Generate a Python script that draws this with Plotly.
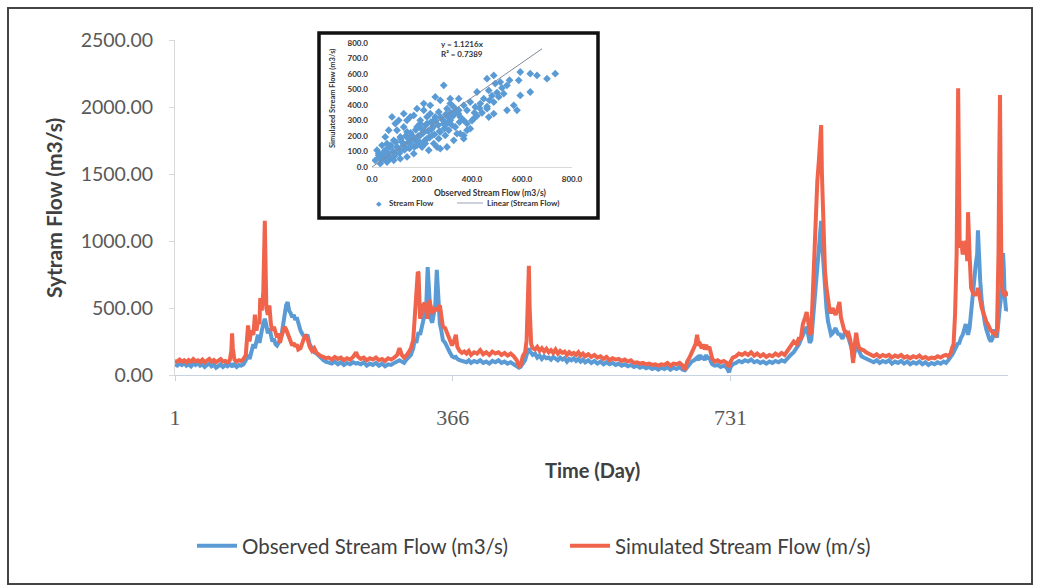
import plotly.graph_objects as go

# ---------------- data ----------------
day = [1,4,7,10,13,16,19,22,25,28,31,34,37,40,43,46,49,52,55,58,61,64,67,70,73,75,76,77,79,82,85,88,91,94,97,99,
       101,104,106,108,110,112,113,115,117,119,120,121,123,125,127,129,131,133,135,137,139,141,143,145,147,149,151,153,155,157,159,161,163,166,169,172,175,178,181,184,187,190,193,196,199,
       203,207,211,215,219,223,227,231,235,239,241,245,249,253,257,261,265,269,273,277,281,285,289,293,296,299,
       302,305,308,311,314,316,318,320,321,323,325,327,329,331,333,335,337,339,341,343,345,347,349,351,353,356,359,362,365,368,370,372,375,378,381,384,387,390,394,398,
       402,406,410,414,418,422,426,430,434,438,442,446,450,453,455,458,461,463,465,466,467,469,471,474,477,480,483,486,489,492,495,498,
       501,504,507,510,513,516,519,522,525,528,531,534,537,540,544,548,552,556,560,564,568,572,576,580,584,588,592,596,
       600,604,608,612,616,620,624,628,632,636,640,644,648,652,656,660,664,668,671,674,677,680,683,685,687,689,691,693,695,697,699,
       701,703,705,707,710,714,718,722,726,729,731,734,738,742,746,750,754,758,762,766,770,774,778,782,786,790,794,798,
       802,806,810,814,818,821,823,826,829,831,833,835,837,839,841,843,845,847,849,850,851,853,855,857,859,861,863,865,867,869,871,873,874,876,878,880,882,884,886,888,890,892,894,896,898,
       900,903,906,909,912,915,919,923,927,931,935,939,943,947,951,955,959,963,967,971,975,979,983,987,991,995,999,
       1003,1007,1011,1014,1017,1020,1022,1024,1026,1028,1030,1031,1032,1034,1036,1038,1040,1042,1043,1045,1047,1049,1051,1053,1055,1056,1057,1059,1061,1063,1065,1067,1069,1071,1073,1075,1077,1079,1081,1083,1084,1085,1086,1087,1089,1090,1091,1093,1095]

observed = [80,70,85,75,90,70,80,65,85,75,90,70,80,60,75,85,65,78,55,72,80,60,75,65,80,70,75,70,80,60,75,70,80,110,150,120,
            180,230,200,260,300,240,280,330,380,420,400,360,310,350,280,250,270,230,220,240,260,300,380,450,520,545,480,460,430,450,410,430,380,330,300,280,300,230,200,170,160,140,120,110,100,
            95,85,100,80,95,75,90,80,95,85,90,80,95,70,85,75,90,70,85,65,80,75,90,100,110,100,
            90,115,130,150,200,260,240,300,320,300,340,400,450,500,805,620,420,390,450,520,785,560,380,330,260,240,200,170,140,130,135,120,110,105,100,95,110,90,105,95,
            110,90,100,85,105,95,110,90,100,85,95,80,70,55,60,90,110,150,180,200,180,170,150,160,130,145,120,140,125,130,115,135,
            120,110,130,115,125,100,120,110,125,105,120,100,115,95,110,90,105,85,100,80,95,80,90,75,85,70,80,65,
            75,60,70,55,65,50,60,45,55,40,55,45,60,40,55,45,60,40,35,60,80,100,110,120,130,110,150,120,140,110,150,
            120,135,100,80,70,75,60,70,55,20,60,80,90,105,95,110,100,115,95,105,90,100,85,100,90,105,95,110,
            100,130,150,170,200,230,260,300,330,360,300,240,260,400,600,700,800,1000,1100,1150,1000,800,620,500,400,340,300,310,330,350,320,300,310,280,270,300,330,310,280,250,200,120,180,220,200,
            170,140,130,120,110,105,95,110,90,105,95,110,85,100,90,105,85,100,80,95,85,100,80,95,75,90,80,
            95,85,100,90,110,130,150,170,200,220,240,230,250,280,300,340,380,330,300,350,450,600,700,820,900,1080,900,700,550,450,390,340,300,270,250,270,340,300,280,400,500,520,560,650,910,800,600,480,500]

simulated = [105,100,115,100,110,95,112,100,118,102,110,98,115,95,108,120,100,112,95,110,118,100,105,95,110,180,310,200,115,100,110,105,120,150,370,250,
             330,300,450,330,400,380,575,480,620,1150,880,500,450,520,380,330,360,300,280,310,240,290,320,360,340,310,290,250,220,240,210,230,190,200,260,300,270,210,180,200,165,150,140,135,125,
             130,115,135,120,130,110,125,115,135,170,140,120,130,110,125,115,130,110,120,105,125,115,130,150,200,150,
             130,145,170,200,260,420,520,770,760,420,480,520,540,460,420,560,500,470,480,500,480,500,520,440,360,350,300,250,220,260,300,210,180,165,175,160,180,150,170,160,
             185,155,170,150,175,160,170,150,165,145,160,140,110,65,70,140,170,260,560,815,500,230,200,190,210,180,200,175,195,170,185,165,
             190,160,180,165,175,150,170,155,165,150,170,145,160,140,155,135,150,130,140,120,135,110,125,115,120,105,115,100,
             110,90,95,85,90,80,85,75,80,70,80,75,90,70,85,80,90,70,40,100,130,170,200,230,300,220,230,200,230,190,225,
             190,210,170,120,100,110,95,105,90,60,100,130,140,160,150,165,150,170,145,160,140,155,135,150,140,160,145,165,
             150,180,220,250,230,280,260,380,430,470,400,300,320,600,1000,1300,1450,1600,1750,1865,1500,1000,780,650,540,490,460,500,470,450,480,520,545,430,380,340,320,300,310,270,200,90,220,315,240,
             200,190,185,170,160,150,140,155,135,150,140,150,130,145,135,150,130,140,125,140,130,145,125,135,120,130,125,
             140,130,145,150,140,160,200,230,460,900,2140,1500,950,1000,900,960,1000,850,1215,900,650,620,600,600,620,650,600,560,500,460,430,400,380,350,330,320,310,300,330,900,1600,2090,1300,700,600,620,600,610,590]

scatter_obs = [733,700,660,633,593,587,633,593,567,540,580,527,493,460,487,513,540,467,507,487,447,420,433,460,487,467,413,393,380,367,347,407,367,
               287,253,273,313,327,300,267,233,207,353,313,287,247,220,193,167,140,180,207,240,273,307,333,353,380,367,327,300,273,247,220,193,160,140,127,
               113,100,87,73,60,47,27,13,33,53,73,93,113,133,153,173,200,227,260,167,140,113,87,60,100,120,147,180,213,240,267,293,340,393,367,300,327,347,
               233,180,153,127,93,80,107,67,53,40,20,27,193,220,253,207,313,
               30,45,55,65,75,85,95,105,115,125,135,145,155,165,175,185,195,205,215,225,235,245,255,265,275,285,295,305,315,325,335,345,
               40,50,70,90,110,130,150,170,190,210,230,250,270,290,320,350,380,400,420,440,460,470,500,520,550,480,430,410]
scatter_sim = [602,570,591,602,613,559,484,462,398,366,366,473,538,570,591,548,527,494,452,419,441,484,409,376,344,322,387,419,366,398,441,312,301,
               527,452,430,441,387,376,355,398,366,323,301,280,301,323,301,333,301,258,237,247,226,237,258,215,237,183,172,129,118,151,183,204,204,226,258,
               194,237,172,129,151,97,75,43,22,54,65,86,108,129,151,172,129,108,129,86,65,54,43,32,129,161,183,140,151,204,183,204,215,247,204,280,344,366,
               344,376,323,344,280,323,301,237,194,140,108,86,280,280,323,409,409,
               60,80,110,90,140,100,160,120,180,140,200,160,220,180,240,200,250,220,270,230,290,260,300,270,320,300,340,320,350,330,360,345,
               45,70,50,70,90,110,120,130,160,170,190,210,230,250,270,290,280,300,330,350,390,430,480,510,560,460,380,350]

trend_slope = 1.1216
trend_x = [0, 680]
trend_y = [trend_slope * v for v in trend_x]
equation_text = "y = 1.1216x"
r2_text = "R² = 0.7389"

main_y_ticks = [0, 500, 1000, 1500, 2000, 2500]
main_x_ticks = [1, 366, 731]
inset_ticks = [0, 100, 200, 300, 400, 500, 600, 700, 800]
inset_x_ticks = [0, 200, 400, 600, 800]

# ---------------- layout helpers ----------------
W, H = 1040, 586
L, R, T, B = 175, 1008, 40, 375
PW, PH = R - L, B - T

def fx(px):
    return (px - L) / PW

def fy(py):
    return (B - py) / PH

BLUE = "#5b9bd5"
RED = "#f0644c"

fig = go.Figure()
fig.add_trace(go.Scatter(x=day, y=observed, mode="lines", name="Observed Stream Flow (m3/s)",
                         line=dict(color=BLUE, width=4)))
fig.add_trace(go.Scatter(x=day, y=simulated, mode="lines", name="Simulated Stream Flow (m/s)",
                         line=dict(color=RED, width=4)))

# inset
fig.add_trace(go.Scatter(x=scatter_obs, y=scatter_sim, mode="markers", xaxis="x2", yaxis="y2",
                         marker=dict(symbol="diamond", size=6, color="#5b9bd5"), showlegend=False))
fig.add_trace(go.Scatter(x=trend_x, y=trend_y, mode="lines", xaxis="x2", yaxis="y2",
                         line=dict(color="#7f8a9c", width=1), showlegend=False))

font_main = "Lato, Open Sans, sans-serif"

fig.update_layout(
    width=W, height=H,
    margin=dict(l=L, r=W - R, t=T, b=H - B),
    paper_bgcolor="white", plot_bgcolor="white",
    font=dict(family=font_main, color="#595959"),
    xaxis=dict(range=[1, 1095.5], tickvals=main_x_ticks, ticktext=[str(v) for v in main_x_ticks],
               showgrid=False, zeroline=False, showline=True, linecolor="#c8d3e0", linewidth=1,
               ticks="outside", ticklen=5, tickcolor="#c8d3e0",
               tickfont=dict(family="Liberation Serif, serif", size=22, color="#595959"),
               ticklabelstandoff=18),
    yaxis=dict(range=[0, 2500], tickvals=main_y_ticks, tickformat=".2f",
               showgrid=False, zeroline=False, showline=True, linecolor="#d9d9d9", linewidth=1,
               ticks="outside", ticklen=5, tickcolor="#d9d9d9",
               tickfont=dict(family=font_main, size=19.5, color="#595959"),
               ticklabelstandoff=12),
    xaxis2=dict(domain=[fx(372), fx(572)], anchor="y2", range=[0, 800], tickvals=inset_x_ticks,
                tickformat=".1f", showgrid=False, zeroline=False, showline=True, linecolor="#d9d9d9",
                ticks="", tickfont=dict(family=font_main, size=8, color="#333333", weight="bold"),
                ticklabelstandoff=4),
    yaxis2=dict(domain=[fy(167), fy(43)], anchor="x2", range=[0, 800], tickvals=inset_ticks,
                tickformat=".1f", showgrid=False, zeroline=False, showline=False,
                ticks="", tickfont=dict(family=font_main, size=8, color="#333333", weight="bold"),
                ticklabelstandoff=3),
    legend=dict(orientation="h", x=fx(192), y=fy(546), xanchor="left", yanchor="middle",
                font=dict(family=font_main, size=20.5, color="#404040"),
                bgcolor="rgba(0,0,0,0)", entrywidth=318, entrywidthmode="pixels",
                itemwidth=40),
    showlegend=True,
)

# inset frame
fig.add_shape(type="rect", xref="paper", yref="paper", x0=fx(319), x1=fx(598), y0=fy(218), y1=fy(33),
              line=dict(color="#111111", width=3.5), fillcolor="rgba(0,0,0,0)", layer="above")
# outer border
fig.add_shape(type="rect", xref="paper", yref="paper", x0=fx(8), x1=fx(1032), y0=fy(584), y1=fy(8),
              line=dict(color="#444444", width=2), fillcolor="rgba(0,0,0,0)", layer="above")

ann = []
ann.append(dict(text="<b>Sytram Flow (m3/s)</b>", x=fx(53), y=fy(208), textangle=-90,
                font=dict(family=font_main, size=21, color="#404040")))
ann.append(dict(text="<b>Time (Day)</b>", x=fx(592), y=fy(470),
                font=dict(family=font_main, size=20, color="#404040")))
ann.append(dict(text="<b>Simulated Stream Flow (m3/s)</b>", x=fx(332), y=fy(99), textangle=-90,
                font=dict(family=font_main, size=7.5, color="#333333")))
ann.append(dict(text="<b>Observed Stream Flow (m3/s)</b>", x=fx(490), y=fy(193),
                font=dict(family=font_main, size=8.5, color="#333333")))
ann.append(dict(text="<b>" + equation_text + "</b>", x=fx(462), y=fy(44),
                font=dict(family=font_main, size=8, color="#333333")))
ann.append(dict(text="<b>" + r2_text + "</b>", x=fx(462), y=fy(54),
                font=dict(family=font_main, size=8, color="#333333")))
ann.append(dict(text="◆", x=fx(379), y=fy(203), font=dict(size=7, color="#5b9bd5")))
ann.append(dict(text="<b>Stream Flow</b>", x=fx(387), y=fy(203), xanchor="left",
                font=dict(family=font_main, size=8, color="#333333")))
ann.append(dict(text="<b>Linear (Stream Flow)</b>", x=fx(485), y=fy(203), xanchor="left",
                font=dict(family=font_main, size=8, color="#333333")))
for a in ann:
    a.update(xref="paper", yref="paper", showarrow=False)
    a.setdefault("xanchor", "center")
    a.setdefault("yanchor", "middle")
fig.update_layout(annotations=ann)
fig.add_shape(type="line", xref="paper", yref="paper", x0=fx(457), x1=fx(483), y0=fy(203), y1=fy(203),
              line=dict(color="#9aa5b5", width=1))

fig.write_html("out.html")
